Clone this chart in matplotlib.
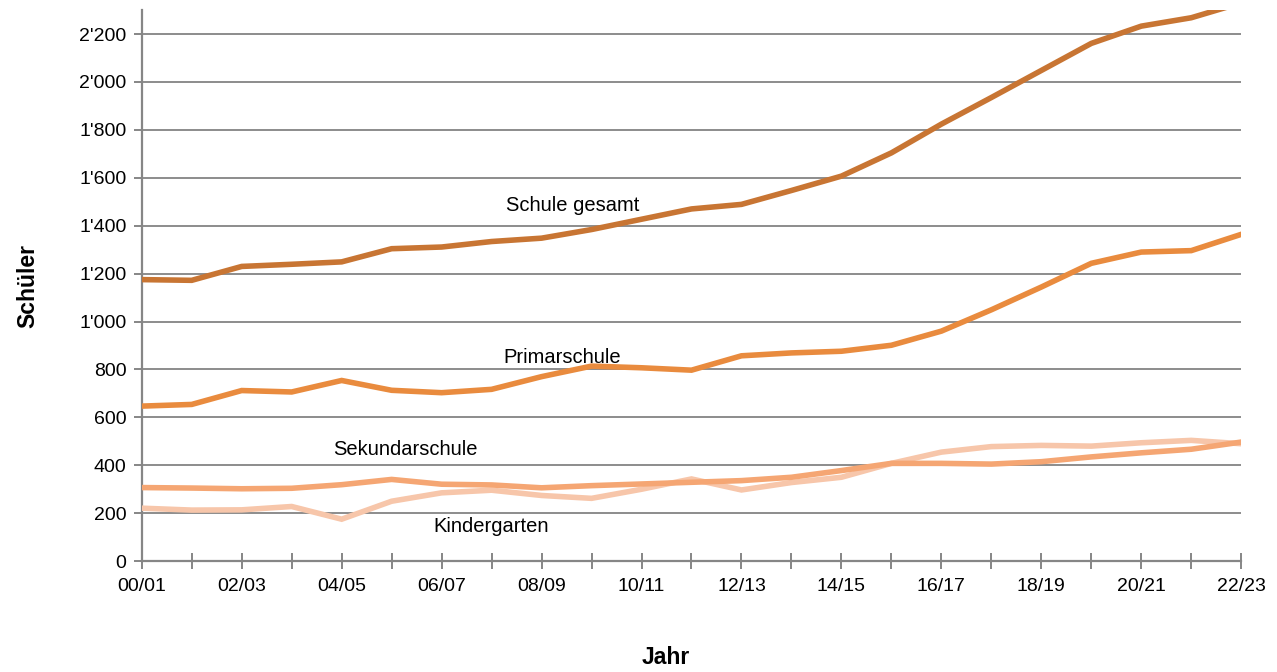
import matplotlib.pyplot as plt
import numpy as np

plt.rcParams['font.family'] = ['Liberation Sans', 'DejaVu Sans']

jahre = ['00/01', '01/02', '02/03', '03/04', '04/05', '05/06', '06/07', '07/08',
         '08/09', '09/10', '10/11', '11/12', '12/13', '13/14', '14/15', '15/16',
         '16/17', '17/18', '18/19', '19/20', '20/21', '21/22', '22/23']

schule_gesamt = [1175, 1172, 1230, 1239, 1249, 1304, 1311, 1334, 1348, 1384, 1427,
                 1470, 1489, 1547, 1607, 1704, 1824, 1935, 2048, 2161, 2233, 2268, 2330]
primarschule = [647, 654, 712, 706, 754, 713, 703, 717, 770, 814, 807,
                797, 857, 869, 876, 901, 960, 1049, 1144, 1243, 1290, 1296, 1364]
sekundarschule = [307, 305, 302, 304, 319, 341, 321, 318, 306, 315, 322,
                  329, 336, 350, 378, 408, 408, 405, 415, 435, 452, 467, 497]
kindergarten = [221, 213, 214, 228, 175, 250, 285, 296, 274, 262, 300,
                343, 297, 328, 350, 408, 455, 478, 483, 480, 494, 504, 490]

# beschriftungen direkt im diagramm (x = index, y = wert)
labels = ['Schule gesamt', 'Primarschule', 'Sekundarschule', 'Kindergarten']
label_x = [8.63, 8.41, 5.27, 6.99]
label_y = [1486, 851, 467, 146]

farben = ['#C87533', '#E98B3E', '#F5A673', '#F7C6AA']

fig = plt.figure(figsize=(12.77, 6.72), dpi=100)
ax = fig.add_axes([0.111, 0.165, 0.861, 0.82])

x = np.arange(len(jahre))
for serie, farbe in zip([kindergarten, sekundarschule, primarschule, schule_gesamt], farben[::-1]):
    ax.plot(x, serie, color=farbe, linewidth=4.0, solid_joinstyle='miter', zorder=3)

for text, lx, ly in zip(labels, label_x, label_y):
    ax.text(lx, ly, text, fontsize=14.5, ha='center', va='center', zorder=4)

ax.set_xlim(0, len(jahre) - 1)
ax.set_ylim(0, 2300)

ax.set_yticks(np.arange(0, 2201, 200))
ax.set_yticklabels([f"{v:,}".replace(',', "'") for v in range(0, 2201, 200)])
ax.set_xticks(x)
ax.set_xticklabels([j if i % 2 == 0 else '' for i, j in enumerate(jahre)])

ax.grid(axis='y', color='#8c8c8c', linewidth=1.4, zorder=1)
ax.set_axisbelow(True)

for s in ['top', 'right']:
    ax.spines[s].set_visible(False)
for s in ['left', 'bottom']:
    ax.spines[s].set_color('#868686')
    ax.spines[s].set_linewidth(1.6)

ax.tick_params(axis='x', direction='inout', length=11, width=1.4, color='#868686',
               labelsize=14, pad=7)
ax.tick_params(axis='y', direction='out', length=6, width=1.4, color='#868686',
               labelsize=14, pad=5)

fig.text(0.022, 0.575, 'Schüler', rotation=90, fontsize=16.5, fontweight='bold',
         ha='center', va='center')
fig.text(0.521, 0.022, 'Jahr', fontsize=16.5, fontweight='bold', ha='center', va='center')

fig.savefig('out.png', dpi=100)
